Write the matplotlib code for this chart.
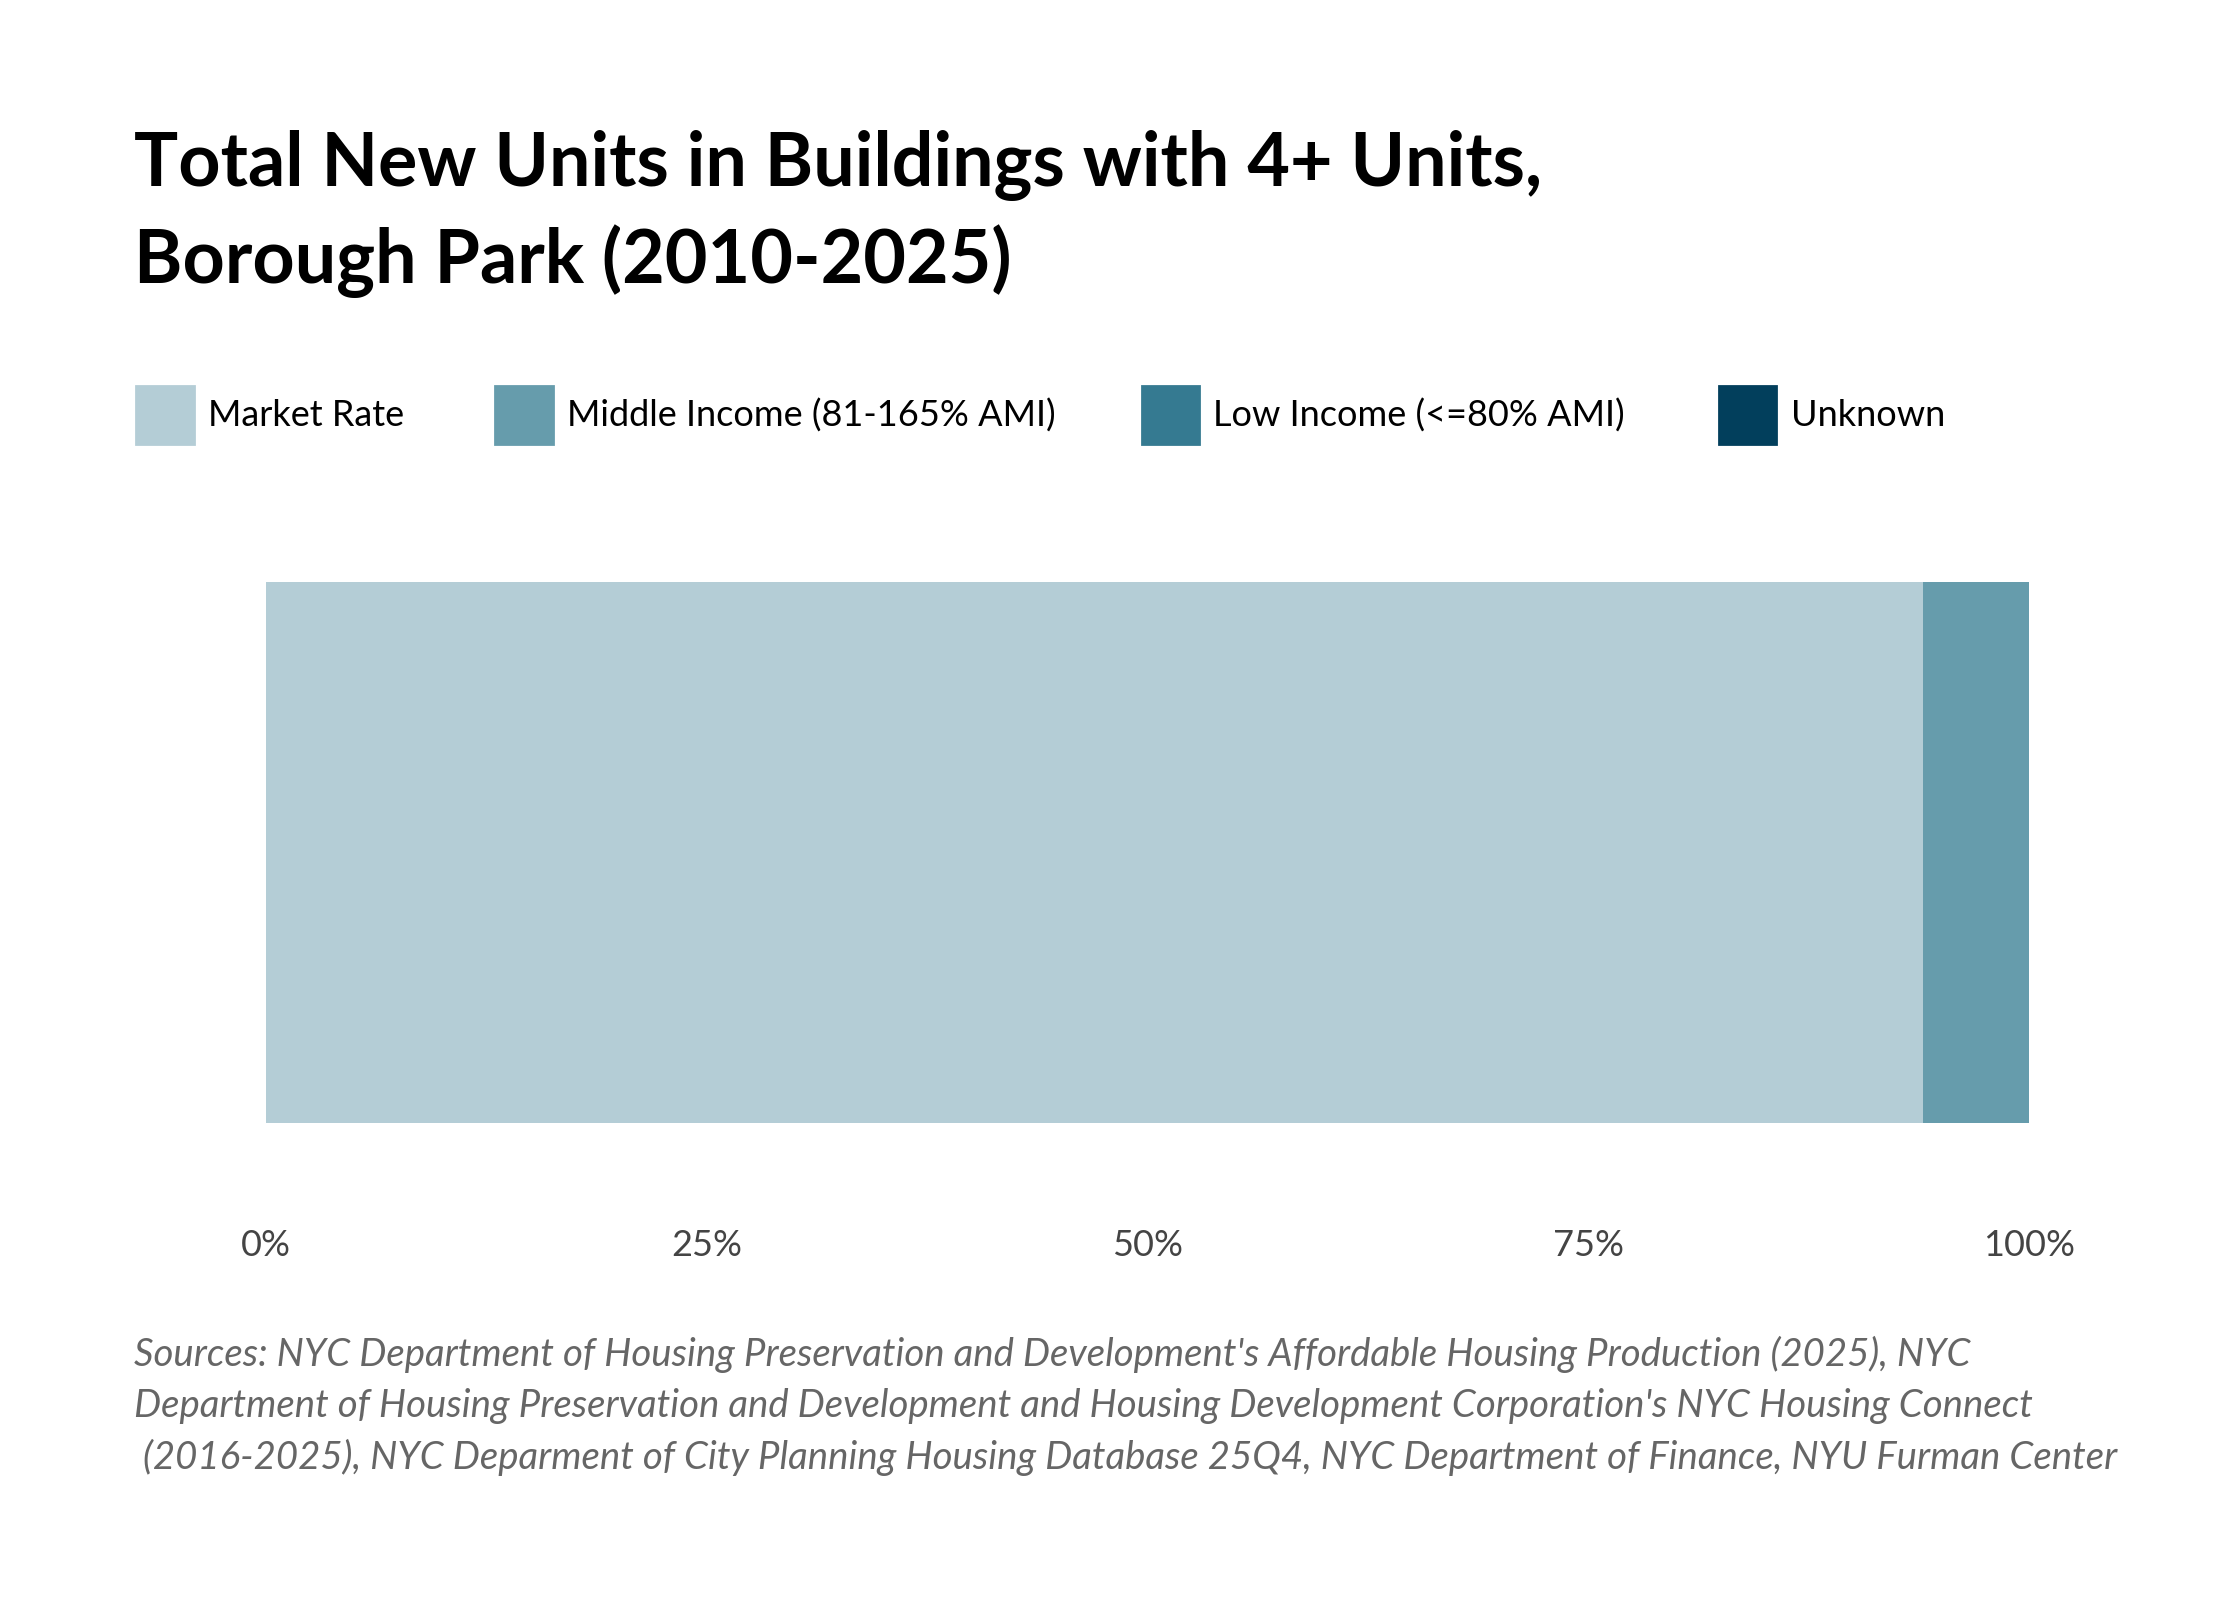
import matplotlib
matplotlib.use("Agg")
import matplotlib.pyplot as plt
from matplotlib.patches import Rectangle

categories = ["Market Rate", "Middle Income (81-165% AMI)", "Low Income (<=80% AMI)", "Unknown"]
values = [94.0, 6.0, 0.0, 0.0]
colors = ["#b4cdd6", "#669cac", "#357a91", "#023f5c"]
ticks = [0, 25, 50, 75, 100]
tick_labels = ["0%", "25%", "50%", "75%", "100%"]

W, H = 1560, 1114
fig = plt.figure(figsize=(11.2, 8), dpi=200)
plt.rcParams['font.family'] = ['Lato', 'DejaVu Sans']

ax = fig.add_axes([185/W, 1-782/H, (1413-185)/W, (782-405)/H])
left = 0
for v, c in zip(values, colors):
    ax.barh(0, v, left=left, height=1, color=c, linewidth=0)
    left += v
ax.set_xlim(0, 100)
ax.set_ylim(-0.5, 0.5)
ax.set_xticks(ticks)
ax.set_xticklabels(tick_labels, fontsize=13, color="#444444")
ax.tick_params(axis='x', length=0, pad=38)
ax.set_yticks([])
for s in ax.spines.values():
    s.set_visible(False)

fig.text(93/W, 1-115/H, "Total New Units in Buildings with 4+ Units,", fontsize=26.5, fontweight='bold', va='center')
fig.text(93/W, 1-182/H, "Borough Park (2010-2025)", fontsize=26.5, fontweight='bold', va='center')

xs = [95, 345, 795, 1197]
for x, lab, c in zip(xs, categories, colors):
    fig.patches.append(Rectangle((x/W, 1-309/H), 40/W, 40/H, transform=fig.transFigure, color=c, figure=fig))
    fig.text((x+50)/W, 1-289/H, lab, fontsize=13, va='center')

src = ["Sources: NYC Department of Housing Preservation and Development's Affordable Housing Production (2025), NYC",
       "Department of Housing Preservation and Development and Housing Development Corporation's NYC Housing Connect",
       " (2016-2025), NYC Deparment of City Planning Housing Database 25Q4, NYC Department of Finance, NYU Furman Center"]
for i, s in enumerate(src):
    fig.text(93/W, 1-(943+36*i)/H, s, fontsize=13.8, style='italic', color="#666666", va='center')

fig.savefig("out.png", dpi=200, facecolor="white")
